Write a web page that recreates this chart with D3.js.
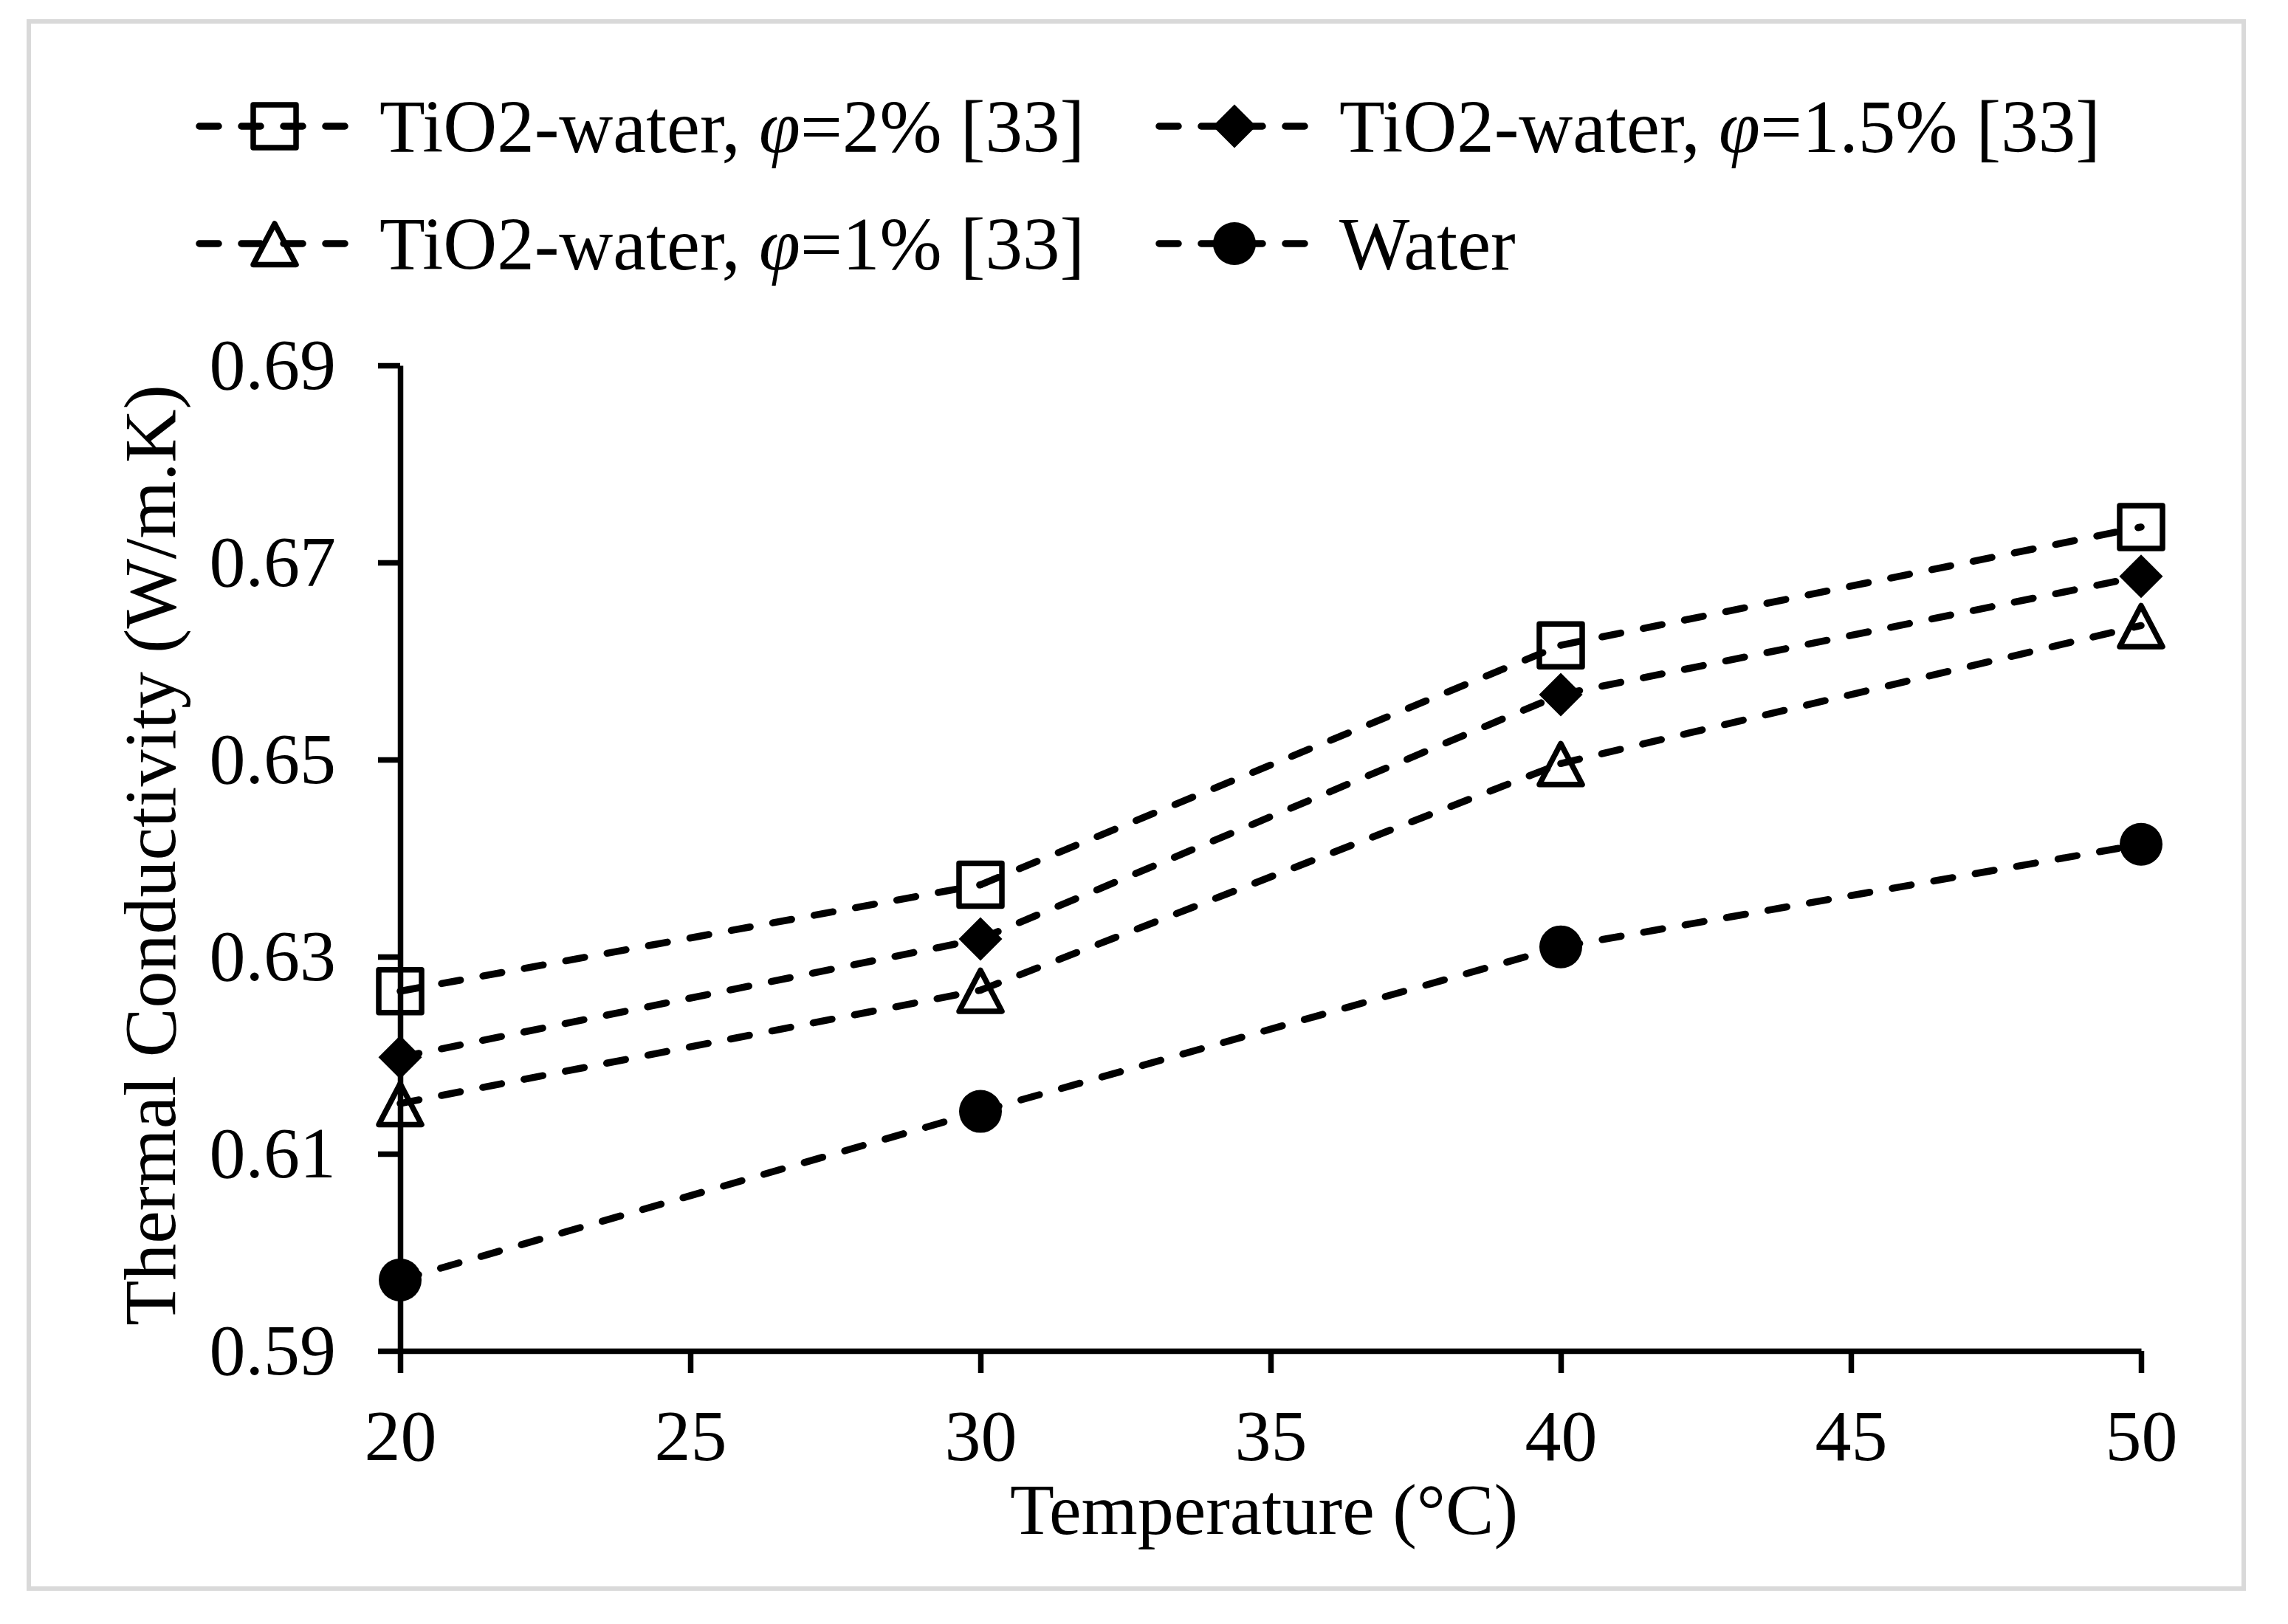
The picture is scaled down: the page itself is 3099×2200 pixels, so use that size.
<!DOCTYPE html>
<html>
<head>
<meta charset="utf-8">
<script src="https://cdn.jsdelivr.net/npm/d3@7"></script>
<style>
  html, body { margin: 0; padding: 0; background: #fff; }
  svg { display: block; }
  text { font-family: "Liberation Serif", "Times New Roman", serif; fill: #000; }
</style>
</head>
<body>
<svg id="chart" width="3099" height="2200"></svg>
<script>
// ---- data ----
const temps = [20, 30, 40, 50];
const phi2  = [0.6265, 0.6373, 0.6616, 0.6736];
const phi15 = [0.6198, 0.6318, 0.6566, 0.6686];
const phi1  = [0.6151, 0.6266, 0.6496, 0.6636];
const water = [0.5972, 0.6143, 0.6310, 0.6414];
const seriesLabels = [
  ["TiO2-water, ", "φ", "=2% [33]"],
  ["TiO2-water, ", "φ", "=1.5% [33]"],
  ["TiO2-water, ", "φ", "=1% [33]"],
  ["Water", "", ""]
];
const seriesMarkers = ["square", "diamond", "triangle", "circle"];
const xTicks = [20, 25, 30, 35, 40, 45, 50];
const yTicks = [0.59, 0.61, 0.63, 0.65, 0.67, 0.69];
const xTitle = "Temperature (°C)";
const yTitle = "Thermal Conductivity (W/m.K)";

const seriesValues = [phi2, phi15, phi1, water];

// ---- layout ----
const svg = d3.select("#chart");
const W = 3099, H = 2200;
const FS = 98;
const pLeft = 542, pRight = 2900, pTop = 495, pBottom = 1830;

svg.append("rect").attr("width", W).attr("height", H).attr("fill", "#fff");
svg.append("rect")
  .attr("x", 39).attr("y", 29).attr("width", 3000).attr("height", 2123)
  .attr("fill", "none").attr("stroke", "#d9d9d9").attr("stroke-width", 6);

const x = d3.scaleLinear().domain([20, 50]).range([pLeft, pRight]);
const y = d3.scaleLinear().domain([0.59, 0.69]).range([pBottom, pTop]);

// axes
const yAxis = d3.axisLeft(y).tickValues(yTicks).tickFormat(d3.format(".2f"))
  .tickSizeInner(30).tickSizeOuter(0).tickPadding(57);
const xAxis = d3.axisBottom(x).tickValues(xTicks).tickFormat(d3.format("d"))
  .tickSizeInner(30).tickSizeOuter(0).tickPadding(48);

const gy = svg.append("g").attr("transform", `translate(${pLeft},0)`).call(yAxis);
const gx = svg.append("g").attr("transform", `translate(0,${pBottom})`).call(xAxis);
[gx, gy].forEach(g => {
  g.attr("font-family", null).attr("font-size", null);
  g.selectAll("path.domain").attr("stroke", "#000").attr("stroke-width", 7.5);
  g.selectAll(".tick line").attr("stroke", "#000").attr("stroke-width", 7.5);
  g.selectAll(".tick text").attr("font-size", FS).attr("fill", "#000")
    .style("font-family", '"Liberation Serif", "Times New Roman", serif');
});

// titles
svg.append("text")
  .attr("x", 1712).attr("y", 2078)
  .attr("text-anchor", "middle").attr("font-size", FS)
  .text(xTitle);
svg.append("text")
  .attr("transform", `translate(237,${(pTop + pBottom) / 2 - 4}) rotate(-90)`)
  .attr("text-anchor", "middle").attr("font-size", 100)
  .text(yTitle);

// marker drawing
function drawMarker(g, type, cx, cy) {
  if (type === "square") {
    g.append("rect").attr("x", cx - 29).attr("y", cy - 29)
      .attr("width", 58).attr("height", 58)
      .attr("fill", "none").attr("stroke", "#000").attr("stroke-width", 7.5)
      .attr("stroke-linejoin", "round");
  } else if (type === "diamond") {
    const r = 29.5;
    g.append("path")
      .attr("d", `M${cx},${cy - r}L${cx + r},${cy}L${cx},${cy + r}L${cx - r},${cy}Z`)
      .attr("fill", "#000");
  } else if (type === "triangle") {
    g.append("path")
      .attr("d", `M${cx},${cy - 27}L${cx + 29},${cy + 28.5}L${cx - 29},${cy + 28.5}Z`)
      .attr("fill", "none").attr("stroke", "#000").attr("stroke-width", 7.5)
      .attr("stroke-linejoin", "round");
  } else {
    g.append("circle").attr("cx", cx).attr("cy", cy).attr("r", 29).attr("fill", "#000");
  }
}

const dash = "26 31";
const lineW = 9.5;
const lineGen = d3.line().x(d => x(d[0])).y(d => y(d[1]));

// series lines (segment by segment, dash restarts at each point)
seriesValues.forEach((vals, si) => {
  const g = svg.append("g");
  const pts = temps.map((t, i) => [t, vals[i]]);
  for (let i = 0; i < pts.length - 1; i++) {
    g.append("path").attr("d", lineGen([pts[i], pts[i + 1]]))
      .attr("fill", "none").attr("stroke", "#000").attr("stroke-width", lineW)
      .attr("stroke-dasharray", dash).attr("stroke-linecap", "round");
  }
});
// markers on top
seriesValues.forEach((vals, si) => {
  const g = svg.append("g");
  temps.forEach((t, i) => drawMarker(g, seriesMarkers[si], x(t), y(vals[i])));
});

// legend
const legendCols = [270, 1570];
const legendRows = [171, 330];
seriesLabels.forEach((lab, i) => {
  const lx = legendCols[i % 2];
  const ly = legendRows[Math.floor(i / 2)];
  const g = svg.append("g");
  g.append("line").attr("x1", lx).attr("x2", lx + 203).attr("y1", ly).attr("y2", ly)
    .attr("stroke", "#000").attr("stroke-width", lineW)
    .attr("stroke-dasharray", dash).attr("stroke-linecap", "round");
  drawMarker(g, seriesMarkers[i], lx + 102, ly);
  const t = g.append("text").attr("x", lx + 244).attr("y", ly + 35).attr("font-size", 101);
  t.append("tspan").text(lab[0]);
  if (lab[1]) t.append("tspan").attr("font-style", "italic").text(lab[1]);
  if (lab[2]) t.append("tspan").text(lab[2]);
});
</script>
</body>
</html>
